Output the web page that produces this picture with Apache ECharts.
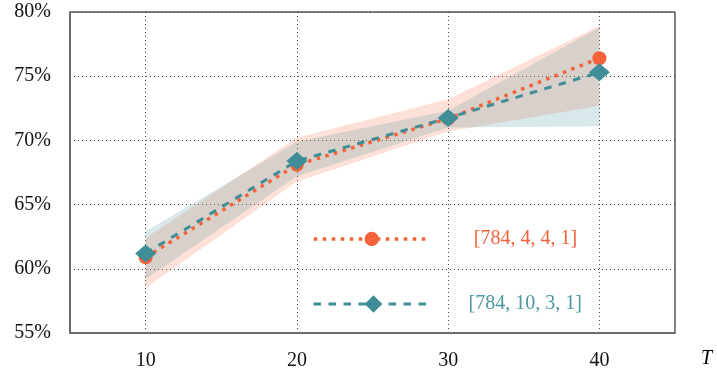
<!DOCTYPE html>
<html><head><meta charset="utf-8">
<script src="https://cdn.jsdelivr.net/npm/echarts@6/dist/echarts.min.js"></script>
<style>html,body{margin:0;padding:0;background:#fff}#c{width:717px;height:371px}</style>
</head><body><div id="c"></div>
<script>
const T = [10, 20, 30, 40];
const xTickValues = [10, 20, 30, 40];
const nameA = '[784, 4, 4, 1]';
const meanA = [60.9, 68.1, 71.7, 76.4];
const upA = [62.4, 70.2, 73.2, 78.9];
const loA = [58.5, 66.8, 70.7, 72.7];
const nameB = '[784, 10, 3, 1]';
const meanB = [61.2, 68.4, 71.75, 75.3];
const upB = [62.9, 69.9, 72.3, 78.8];
const loB = [59.2, 67.2, 71.0, 71.1];

const ORANGE = '#F4623A';
const TEAL = '#3F8E97';
const FONT = '"Liberation Serif", "DejaVu Serif", serif';
const FS = 20;

function band(up, lo, color) {
  return {
    type: 'custom', silent: true, z: 1,
    data: [[T[0], up[0]]],
    renderItem: function (params, api) {
      const pts = [];
      for (let i = 0; i < T.length; i++) pts.push(api.coord([T[i], up[i]]));
      for (let i = T.length - 1; i >= 0; i--) pts.push(api.coord([T[i], lo[i]]));
      return { type: 'polygon', shape: { points: pts }, style: { fill: color } };
    }
  };
}

const chart = echarts.init(document.getElementById('c'));
chart.setOption({
  animation: false,
  grid: { left: 70, right: 42, top: 12, bottom: 37, show: true, borderColor: '#000', borderWidth: 1 },
  xAxis: {
    type: 'value', min: 5, max: 45,
    name: 'T', nameLocation: 'end', nameGap: 26,
    nameTextStyle: { fontFamily: FONT, fontStyle: 'italic', fontSize: FS, color: '#000', verticalAlign: 'top', padding: [16, 0, 0, 0] },
    axisLine: { show: true, lineStyle: { color: '#666', width: 1.5 } },
    axisTick: { show: false, customValues: xTickValues },
    axisLabel: { customValues: xTickValues, margin: 18, fontFamily: FONT, fontSize: FS, color: '#111' },
    splitLine: { show: true, lineStyle: { type: [1, 3], color: '#444', width: 1 } }
  },
  yAxis: {
    type: 'value', min: 55, max: 80, interval: 5,
    axisLine: { show: true, lineStyle: { color: '#666', width: 1.5 } },
    axisTick: { show: false },
    axisLabel: { formatter: '{value}%', margin: 19, fontFamily: FONT, fontSize: FS, color: '#111' },
    splitLine: { show: true, lineStyle: { type: [1, 3], color: '#444', width: 1 } }
  },
  legend: [
    {
      data: [nameA], left: 312, top: 229, padding: 0, itemWidth: 116, itemHeight: 18, selectedMode: false,
      lineStyle: { width: 3.5 },
      textStyle: { color: ORANGE, fontFamily: FONT, fontSize: FS, padding: [0, 0, 0, 39] }
    },
    {
      data: [nameB], left: 312, top: 294, padding: 0, itemWidth: 120, itemHeight: 22, selectedMode: false,
      lineStyle: { width: 3 },
      textStyle: { color: '#4A98A1', fontFamily: FONT, fontSize: FS, padding: [0, 0, 0, 30] }
    }
  ],
  series: [
    band(upA, loA, 'rgba(244,98,58,0.2)'),
    band(upB, loB, 'rgba(63,142,151,0.2)'),
    {
      type: 'line', name: nameA, z: 3,
      data: T.map((t, i) => [t, meanA[i]]),
      symbol: 'circle', symbolSize: 14,
      lineStyle: { color: ORANGE, width: 3.5, type: [3.5, 5.5] },
      itemStyle: { color: ORANGE }
    },
    {
      type: 'line', name: nameB, z: 4,
      data: T.map((t, i) => [t, meanB[i]]),
      symbol: 'diamond', symbolSize: [21, 18],
      lineStyle: { color: TEAL, width: 3, type: [7.5, 7.5] },
      itemStyle: { color: TEAL }
    }
  ]
});
</script>
</body></html>
